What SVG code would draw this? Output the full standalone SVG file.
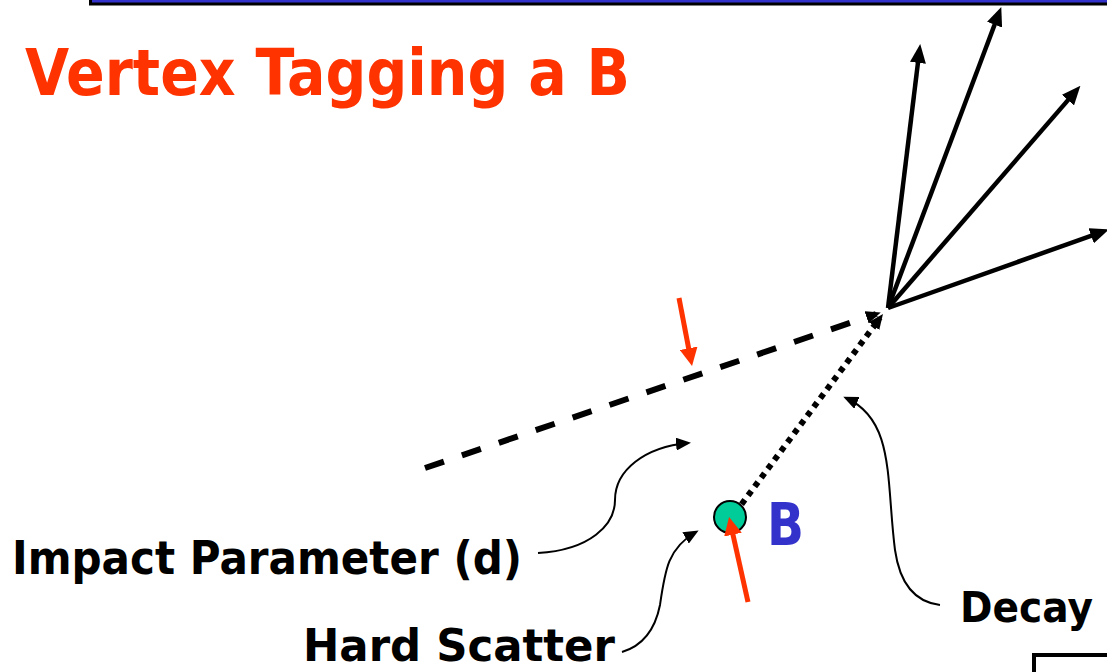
<svg xmlns="http://www.w3.org/2000/svg" width="1107" height="672" viewBox="0 0 1107 672">
<style>
.lbl{font-family:"Comic Sans MS","DejaVu Sans",sans-serif;font-weight:bold;fill:#000}
.title{font-family:"Comic Sans MS","DejaVu Sans",sans-serif;font-weight:bold;fill:#ff3300}
.fan{stroke:#000;stroke-width:4.5;fill:none;marker-end:url(#fanHead)}
.red{stroke:#ff3300;stroke-width:5;fill:none;marker-end:url(#redHead)}
.thin{stroke:#000;stroke-width:2;fill:none;marker-end:url(#thinHead)}
</style>
<defs>
<marker id="fanHead" viewBox="0 0 19 16" refX="8" refY="8" markerWidth="19" markerHeight="16" markerUnits="userSpaceOnUse" orient="auto"><path d="M0,0 L19,8 L0,16 z" fill="#000"/></marker>
<marker id="redHead" viewBox="0 0 18 18" refX="4" refY="9" markerWidth="18" markerHeight="18" markerUnits="userSpaceOnUse" orient="auto"><path d="M0,0 L18,9 L0,18 z" fill="#ff3300"/></marker>
<marker id="thinHead" viewBox="0 0 15 13" refX="12" refY="6.5" markerWidth="15" markerHeight="13" markerUnits="userSpaceOnUse" orient="auto"><path d="M0,0 L15,6.5 L0,13 z" fill="#000"/></marker>
<marker id="smallHead" viewBox="0 0 15 13" refX="10" refY="6.5" markerWidth="15" markerHeight="13" markerUnits="userSpaceOnUse" orient="auto"><path d="M0,0 L15,6.5 L0,13 z" fill="#000"/></marker>
</defs>
<rect width="1107" height="672" fill="#fff"/>
<g id="banner"><rect x="90.5" y="-10" width="1030" height="14" fill="#3333cc" stroke="#000" stroke-width="3"/></g>
<g id="title"><text class="title" x="25" y="95" font-size="64" textLength="605" lengthAdjust="spacingAndGlyphs">Vertex Tagging a B</text></g>
<g id="connectors">
<line x1="888" y1="308" x2="918.9" y2="54.9" class="fan"/>
<line x1="888" y1="308" x2="997.4" y2="17.2" class="fan"/>
<line x1="888" y1="308" x2="1073.2" y2="94.1" class="fan"/>
<line x1="888" y1="308" x2="1098.7" y2="233.1" class="fan"/>
<line x1="425" y1="468" x2="876" y2="314" stroke="#000" stroke-width="6" stroke-dasharray="20 19" marker-end="url(#smallHead)"/>
<line x1="735" y1="513" x2="880" y2="318" stroke="#000" stroke-width="6" stroke-dasharray="5.5 5.5" marker-end="url(#smallHead)"/>
<line x1="679" y1="298" x2="689.4" y2="352.2" class="red"/>
<path d="M538,553 C590,550 615,525 615,500 C615,470 645,447 688,443" class="thin"/>
<path d="M622,652 C642,646 655,630 660,605 C665,570 668,548 696,532" class="thin"/>
<path d="M940,605 C915,602 900,585 895,550 C886,480 895,420 846,398" class="thin"/>
</g>
<g id="B"><circle cx="730" cy="517" r="16" fill="#00cc99" stroke="#000" stroke-width="2"/>
<text x="767" y="545" font-family="'Comic Sans MS','DejaVu Sans',sans-serif" font-weight="bold" font-size="58" fill="#3333cc" textLength="37" lengthAdjust="spacingAndGlyphs">B</text></g>
<g id="hardArrow"><line x1="748" y1="602" x2="732.1" y2="530.7" class="red"/></g>
<g id="impact"><text class="lbl" x="12" y="574" font-size="46" textLength="510" lengthAdjust="spacingAndGlyphs">Impact Parameter (d)</text></g>
<g id="hard"><text class="lbl" x="303" y="661" font-size="44" textLength="312" lengthAdjust="spacingAndGlyphs">Hard Scatter</text></g>
<g id="decay"><text class="lbl" x="960" y="622" font-size="42" textLength="133" lengthAdjust="spacingAndGlyphs">Decay</text></g>
<g id="box"><rect x="1034" y="655" width="100" height="40" fill="none" stroke="#000" stroke-width="4"/></g>
</svg>
